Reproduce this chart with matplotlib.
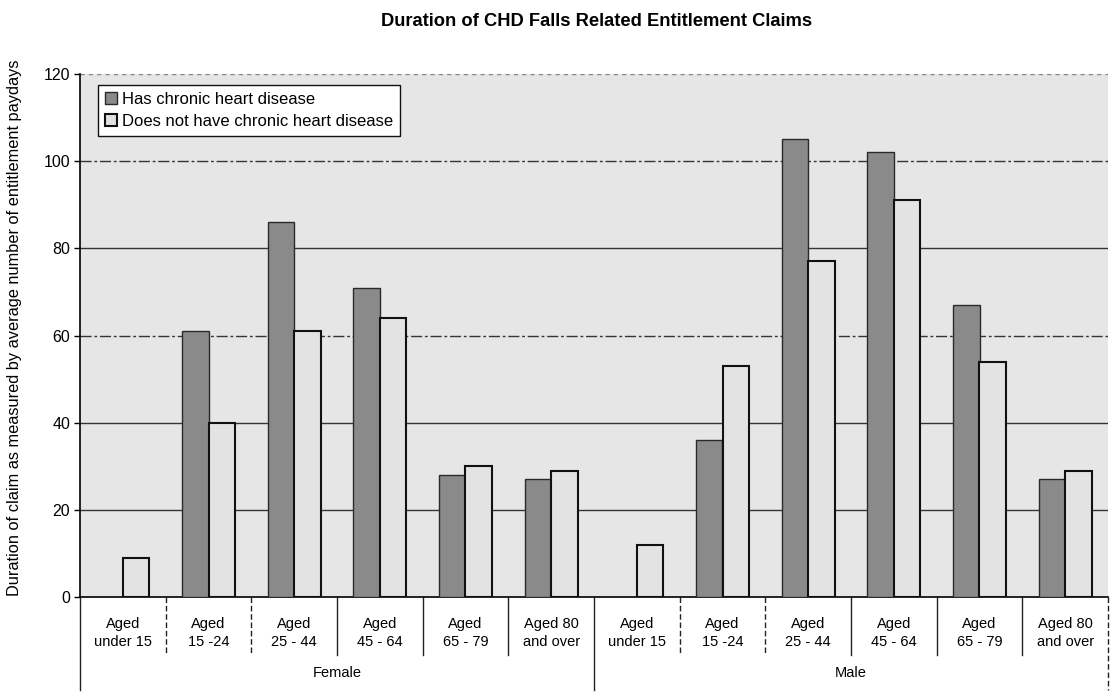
"""
Duration of CHD falls related entitlement claims,
grouped bars by sex and age band
"""

import numpy as np
import matplotlib as mpl
mpl.use('Agg')
import matplotlib.pyplot as plt

# data
sexes = ['Female', 'Male']
age_bands = ['Aged\nunder 15', 'Aged\n15 -24', 'Aged\n25 - 44',
             'Aged\n45 - 64', 'Aged\n65 - 79', 'Aged 80\nand over']
series_names = ['Has chronic heart disease',
                'Does not have chronic heart disease']
has_chd = [0, 61, 86, 71, 28, 27,
           0, 36, 105, 102, 67, 27]
no_chd = [9, 40, 61, 64, 30, 29,
          12, 53, 77, 91, 54, 29]
yticks = [0, 20, 40, 60, 80, 100, 120]

# figure geometry in pixels
fig_w, fig_h = 1112, 693
ax_left, ax_right = 80, 1108
ax_bottom, ax_top = 597, 74
ftsize = 10

plt.rc('font', family=['Liberation Sans', 'DejaVu Sans'], size=ftsize)

fig = plt.figure(figsize=(fig_w/100, fig_h/100), dpi=100)
ax = fig.add_axes([ax_left/fig_w,
                   1 - ax_bottom/fig_h,
                   (ax_right - ax_left)/fig_w,
                   (ax_bottom - ax_top)/fig_h])
ax.set_facecolor('#e6e6e6')

n = len(has_chd)
x = np.arange(n)
bw = 0.31

# gridlines, partly broken as on the printed page
grid_styles = {20: '-', 40: '-', 60: (0, (8, 2, 2, 2)), 80: '-',
               100: (0, (8, 2, 2, 2)), 120: (0, (3, 3))}
for yv, ls in grid_styles.items():
    ax.axhline(yv, color='#222222', lw=1.0, ls=ls, zorder=1,
               alpha=0.5 if yv == 120 else 0.9)

b1 = ax.bar(x - bw/2, has_chd, bw, color='#8a8a8a',
            edgecolor='#2a2a2a', lw=1.0, zorder=3)
b2 = ax.bar(x + bw/2, no_chd, bw, color='#e3e3e3',
            edgecolor='#111111', lw=1.5, zorder=3)

ax.set_xlim(-0.5, n - 0.5)
ax.set_ylim(0, 120)
ax.set_yticks(yticks)
ax.tick_params(axis='y', labelsize=11.5, length=4, width=1, pad=3)
ax.set_xticks([])
for s in ['top', 'right']:
    ax.spines[s].set_visible(False)
ax.spines['left'].set_linewidth(1.2)
ax.spines['bottom'].set_linewidth(1.2)

ax.set_ylabel('Duration of claim as measured by average number of entitlement paydays',
              fontsize=11.8)
ax.yaxis.set_label_coords(-0.056, 0.515)

fig.text(597/fig_w, 1 - 21/fig_h,
         'Duration of CHD Falls Related Entitlement Claims',
         ha='center', va='center', fontsize=13.2, fontweight='bold')

# category labels below the axis
trans = ax.get_xaxis_transform()
y_cat = -0.069
y_sex = -0.145
y_div = -0.111
y_full = -0.178
for i, lab in enumerate(age_bands * len(sexes)):
    ax.text(i, y_cat, lab, transform=trans, ha='center', va='center',
            fontsize=10.5, linespacing=1.3)
ng = len(age_bands)
for k, sx in enumerate(sexes):
    ax.text(k*ng + (ng - 1)/2, y_sex, sx, transform=trans,
            ha='center', va='center', fontsize=10.5)

# divider lines between categories
div_styles = ['-', (0, (4, 2)), (0, (4, 2)), '-', '-', '-']
for k in range(len(sexes) + 1):
    xd = k*ng - 0.5
    ax.plot([xd, xd], [0, y_full], transform=trans, color='#222222',
            lw=1.0, clip_on=False,
            ls='-' if k < len(sexes) else (0, (4, 2)))
for k in range(len(sexes)):
    for j in range(1, ng):
        xd = k*ng + j - 0.5
        ax.plot([xd, xd], [0, y_div], transform=trans, color='#222222',
                lw=1.0, clip_on=False, ls=div_styles[j])

leg = ax.legend([b1, b2], series_names, loc='upper left',
                bbox_to_anchor=(0.0175, 0.979), borderaxespad=0,
                fancybox=False, framealpha=1, edgecolor='#111111',
                fontsize=12, handlelength=0.75, handleheight=0.75,
                handletextpad=0.3, borderpad=0.4, labelspacing=0.45)
leg.get_frame().set_linewidth(1.0)
leg.set_zorder(5)

fig.savefig('out.png', dpi=100, facecolor='white')
plt.close('all')
